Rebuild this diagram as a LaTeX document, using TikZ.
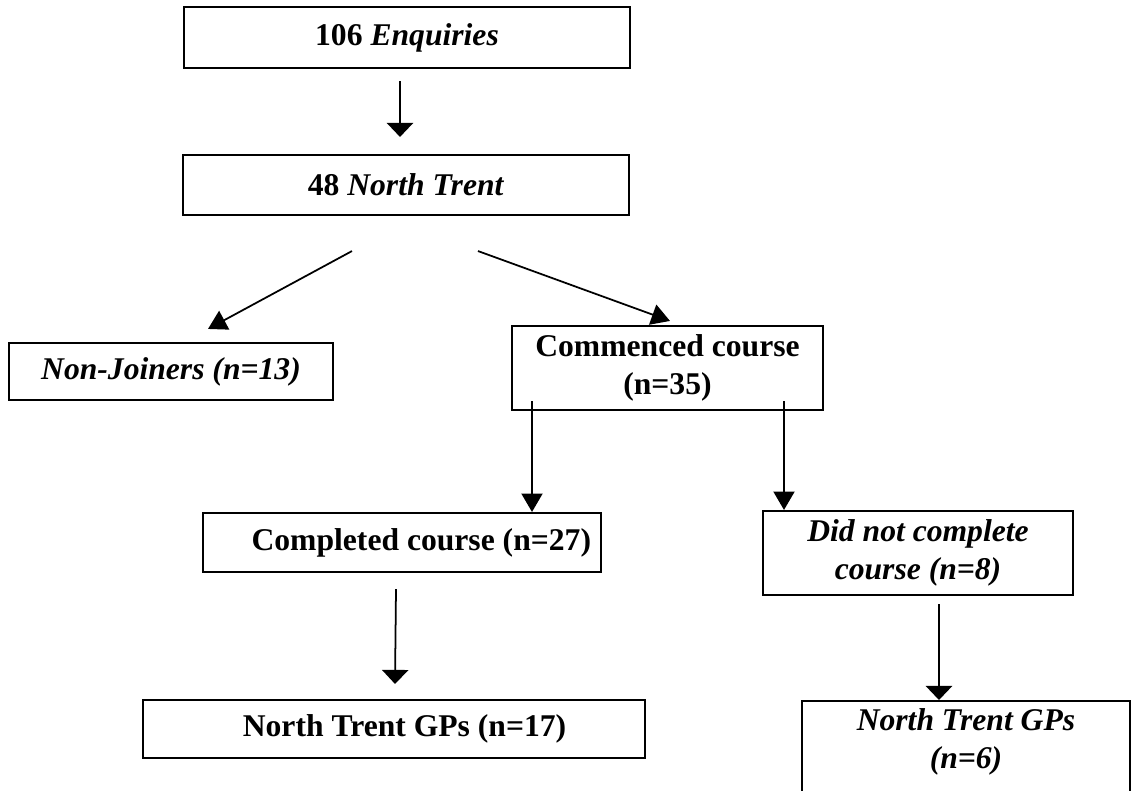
\documentclass[tikz,border=0pt]{standalone}
\usepackage{fontspec}
\setmainfont{Liberation Serif}
\usetikzlibrary{arrows.meta,positioning,calc}

\begin{document}
\begin{tikzpicture}[x=0.02cm, y=-0.02cm,
    stage/.style={rectangle,draw=black,line width=1.2pt,align=center,inner sep=4pt,
      font=\fontsize{18}{22}\selectfont\bfseries},
    flatarr/.style={line width=1pt,-{Triangle[width=15pt,length=8pt]}},
    sharparr/.style={line width=1pt,-{Triangle[width=12pt,length=10.5pt]}}]
  \useasboundingbox (0,0) rectangle (1134,791);
  \clip (0,0) rectangle (1134,791);
  \node[stage,minimum width=8.92cm,minimum height=1.22cm] at (407,37.5) (enq) {106 \textit{Enquiries}};
  \node[stage,minimum width=8.92cm,minimum height=1.2cm] at (406,185) (nt) {48 \textit{North Trent}};
  \node[stage,minimum width=6.48cm,minimum height=1.14cm] at (171,371.5) (nonj) {\textit{Non-Joiners (n=13)}};
  \node[stage,minimum width=6.22cm,minimum height=1.68cm] at (667.5,368) (comm) {Commenced course\\(n=35)};
  \node[stage,minimum width=7.96cm,minimum height=1.18cm] at (402,542.5) (compl) {\hspace*{22pt}Completed course (n=27)};
  \node[stage,minimum width=6.2cm,minimum height=1.68cm] at (918,553) (dnc) {\textit{Did not complete}\\\textit{course (n=8)}};
  \node[stage,minimum width=10.04cm,minimum height=1.16cm] at (394,729) (gp17) {\hspace*{12pt}North Trent GPs (n=17)};
  \node[stage,minimum width=6.56cm,anchor=north,text depth=30pt] at (966,700) (gp6) {\textit{North Trent GPs}\\\textit{(n=6)}};
  \draw[flatarr] ([shift={(-7,12)}]enq.south) -- ([shift={(-6,-17)}]nt.north);
  \draw[sharparr] ([shift={(-54,35)}]nt.south) -- ([shift={(37,-13)}]nonj.north);
  \draw[sharparr] ([shift={(72,35)}]nt.south) -- ([shift={(2.5,-4)}]comm.north);
  \draw[sharparr] ([shift={(-135.5,-10)}]comm.south) -- ([shift={(130,0)}]compl.north);
  \draw[sharparr] ([shift={(116.5,-10)}]comm.south) -- ([shift={(-134,0)}]dnc.north);
  \draw[flatarr] ([shift={(-6,16)}]compl.south) -- ([shift={(1,-15)}]gp17.north);
  \draw[flatarr] ([shift={(21,8)}]dnc.south) -- ([shift={(-27,0)}]gp6.north);
\end{tikzpicture}
\end{document}
